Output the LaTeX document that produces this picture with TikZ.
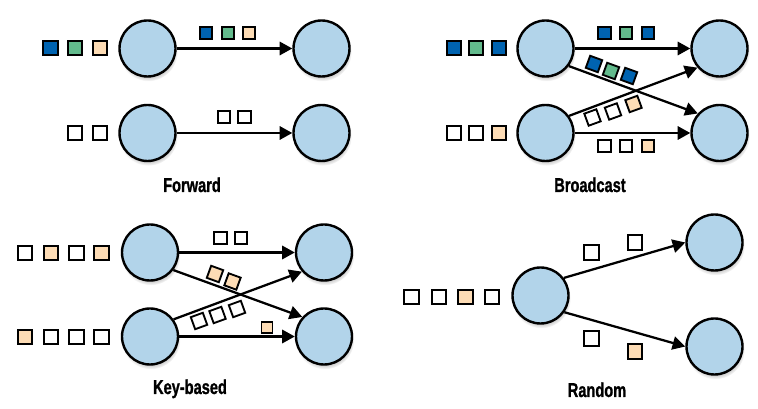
\documentclass[tikz,border=0pt]{standalone}
\usepackage{graphicx}
\usepackage{fontspec}
\setmainfont{Liberation Sans}
\newfontfamily\capfont[FakeBold=1.3]{Liberation Sans Bold}
\usetikzlibrary{arrows.meta,shadows}
\definecolor{cblue}{HTML}{B2D4EA}
\definecolor{sqblue}{HTML}{0063B0}
\definecolor{sqgreen}{HTML}{63BB8D}
\definecolor{sqtan}{HTML}{FDDCB5}
\tikzset{
  proc/.style={circle, draw=black, line width=1.8pt, fill=cblue, minimum size=42pt, inner sep=0pt,
    circular drop shadow={shadow xshift=0.6pt, shadow yshift=-2.4pt, shadow scale=1.05, opacity=0.4}},
  insq/.style={draw=black, line width=1.5pt, minimum size=11pt, inner sep=0pt, fill=white},
  lsq/.style={draw=black, line width=1.4pt, minimum size=9.6pt, inner sep=0pt, fill=white},
  ssq/.style={draw=black, line width=1.3pt, minimum size=8.4pt, inner sep=0pt, fill=white},
  bl/.style={fill=sqblue}, gr/.style={fill=sqgreen}, tn/.style={fill=sqtan},
  flow/.style={line width=1.7pt, -{Triangle[length=9.5pt,width=10pt]}},
  captext/.style={anchor=base, font=\capfont\fontsize{15}{17}\selectfont}
}
\newcommand{\cond}[1]{\scalebox{0.73}[1]{#1}}
\begin{document}
\begin{tikzpicture}[x=0.75pt,y=-0.75pt]
\useasboundingbox (0,0) rectangle (758,409);
% ---------------- Forward ----------------
\node[proc] (fa1) at (147.5,48.5) {};
\node[proc] (fb1) at (321.5,48.5) {};
\node[proc] (fa2) at (147.5,133) {};
\node[proc] (fb2) at (321.5,133) {};
\draw[flow] (fa1.east) -- (fb1.west);
\draw[flow] (fa2.east) -- (fb2.west);
\node[insq,bl] (fi1) at (50.5,48) {};
\node[insq,gr] (fi2) at (75,48) {};
\node[insq,tn] (fi3) at (100,48) {};
\node[insq] (fi4) at (75,133) {};
\node[insq] (fi5) at (100,133) {};
\node[lsq,bl] (fl1) at (206,33) {};
\node[lsq,gr] (fl2) at (228,33) {};
\node[lsq,tn] (fl3) at (249,33) {};
\node[lsq] (fl4) at (224,117) {};
\node[lsq] (fl5) at (244.5,117) {};
\node[captext] (fcap) at (192,192) {\cond{Forward}};
% ---------------- Broadcast ----------------
\node[proc] (ba1) at (545.5,48.5) {};
\node[proc] (bb1) at (719.5,48.5) {};
\node[proc] (ba2) at (545.5,133) {};
\node[proc] (bb2) at (719.5,133) {};
\draw[flow] (ba1.east) -- (bb1.west);
\draw[flow] (ba2.east) -- (bb2.west);
\draw[flow] (ba1.-37) -- (bb2.138);
\draw[flow] (ba2.36) -- (bb1.-139);
\node[insq,bl] (bi1) at (454,48) {};
\node[insq,gr] (bi2) at (476,48) {};
\node[insq,bl] (bi3) at (499,48) {};
\node[insq] (bi4) at (454,133) {};
\node[insq] (bi5) at (476,133) {};
\node[insq,tn] (bi6) at (499,133) {};
\node[lsq,bl] (bl1) at (604.5,33) {};
\node[lsq,gr] (bl2) at (626,33) {};
\node[lsq,bl] (bl3) at (648,33) {};
\node[lsq,bl,rotate=-20] (bl4) at (594,64) {};
\node[lsq,gr,rotate=-20] (bl5) at (611,71) {};
\node[lsq,bl,rotate=-20] (bl6) at (629,76) {};
\node[lsq,rotate=20] (bl7) at (592.5,117.5) {};
\node[lsq,rotate=20] (bl8) at (613,111.5) {};
\node[lsq,tn,rotate=20] (bl9) at (633.5,104) {};
\node[lsq] (bl10) at (604.5,146) {};
\node[lsq] (bl11) at (626,146) {};
\node[lsq,tn] (bl12) at (648,146) {};
\node[captext] (bcap) at (590,192) {\cond{Broadcast}};
% ---------------- Key-based ----------------
\node[proc] (ka1) at (150,252.5) {};
\node[proc] (kb1) at (324,252.5) {};
\node[proc] (ka2) at (150,336.5) {};
\node[proc] (kb2) at (324,336.5) {};
\draw[flow] (ka1.east) -- (kb1.west);
\draw[flow] (ka2.east) -- (kb2.west);
\draw[flow] (ka1.-37) -- (kb2.138);
\draw[flow] (ka2.36) -- (kb1.-139);
\node[insq] (ki1) at (25,253) {};
\node[insq,tn] (ki2) at (51,253) {};
\node[insq] (ki3) at (76.5,253) {};
\node[insq,tn] (ki4) at (101.5,253) {};
\node[insq,tn] (ki5) at (25,337) {};
\node[insq] (ki6) at (51,337) {};
\node[insq] (ki7) at (76.5,337) {};
\node[insq] (ki8) at (101.5,337) {};
\node[lsq] (kl1) at (220.5,238) {};
\node[lsq] (kl2) at (241,238) {};
\node[lsq,tn,rotate=-20] (kl3) at (215,274) {};
\node[lsq,tn,rotate=-20] (kl4) at (232.5,281.5) {};
\node[lsq,rotate=20] (kl5) at (199,321) {};
\node[lsq,rotate=20] (kl6) at (217.5,315) {};
\node[lsq,rotate=20] (kl7) at (237,309) {};
\node[ssq,tn] (kl8) at (267,327.5) {};
\node[captext] (kcap) at (190,394) {\cond{Key-based}};
% ---------------- Random ----------------
\node[proc] (ra) at (540.5,295.5) {};
\node[proc] (rb1) at (714.5,242.5) {};
\node[proc] (rb2) at (714.5,346.5) {};
\draw[flow] (ra.37) -- (rb1.west);
\draw[flow] (ra.-35) -- (rb2.west);
\node[insq] (ri1) at (411.5,297) {};
\node[insq] (ri2) at (439,297) {};
\node[insq,tn] (ri3) at (465.5,297) {};
\node[insq] (ri4) at (492,297) {};
\node[insq] (rl1) at (591.7,252.8) {};
\node[insq] (rl2) at (635,242.3) {};
\node[insq] (rl3) at (591.7,338.7) {};
\node[insq,tn] (rl4) at (635,351.3) {};
\node[captext] (rcap) at (597,397) {\cond{Random}};
\end{tikzpicture}
\end{document}
